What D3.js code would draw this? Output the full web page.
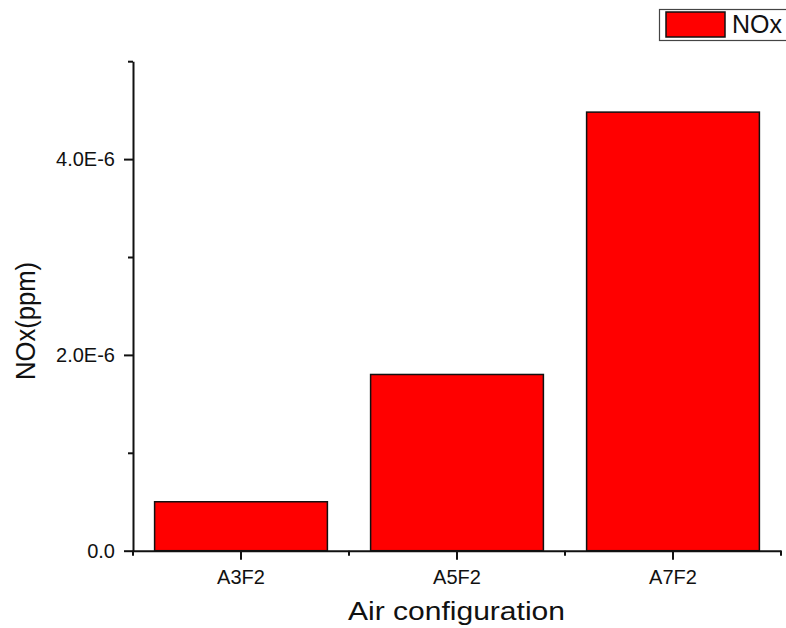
<!DOCTYPE html>
<html>
<head>
<meta charset="utf-8">
<script src="https://cdn.jsdelivr.net/npm/d3@7"></script>
<style>
  html, body { margin: 0; padding: 0; background: #fff; }
  svg { display: block; font-family: "Liberation Sans", Arial, sans-serif; }
</style>
</head>
<body>
<svg id="chart" width="786" height="628"></svg>
<script>
// NOx emission per air configuration
const categories = ["A3F2", "A5F2", "A7F2"];
const noxValues = [0.5e-6, 1.8e-6, 4.48e-6];
const seriesName = "NOx";
const yMajorTicks = [0, 2e-6, 4e-6];
const yMinorTicks = [1e-6, 3e-6, 5e-6];
const xTitle = "Air configuration";
const yTitle = "NOx(ppm)";

const svg = d3.select("#chart");
const plotLeft = 133, plotRight = 781, plotBottom = 550.7, plotTop = 61.2;

const x = d3.scaleBand()
  .domain(categories)
  .range([plotLeft, plotRight])
  .paddingInner(0.2)
  .paddingOuter(0.1);

const y = d3.scaleLinear()
  .domain([0, 5e-6])
  .range([plotBottom, plotTop]);

const fmt = d => d === 0 ? "0.0" : (d / 1e-6).toFixed(1) + "E-6";

// bars
svg.append("g").selectAll("rect")
  .data(categories.map((c, i) => ({ c, v: noxValues[i] })))
  .join("rect")
  .attr("x", d => x(d.c))
  .attr("y", d => y(d.v))
  .attr("width", x.bandwidth())
  .attr("height", d => y(0) - y(d.v))
  .attr("fill", "#ff0000")
  .attr("stroke", "#111")
  .attr("stroke-width", 1.5);

// y axis: major ticks with labels, minor ticks without
svg.append("g")
  .attr("transform", `translate(${plotLeft},0)`)
  .call(d3.axisLeft(y).tickValues(yMajorTicks).tickFormat(fmt)
    .tickSize(9).tickSizeOuter(0).tickPadding(9));
svg.append("g")
  .attr("transform", `translate(${plotLeft},0)`)
  .call(d3.axisLeft(y).tickValues(yMinorTicks).tickFormat("")
    .tickSize(5).tickSizeOuter(0))
  .select(".domain").remove();

// x axis: major ticks at category centres, minor ticks at boundaries
svg.append("g")
  .attr("transform", `translate(0,${plotBottom})`)
  .call(d3.axisBottom(x).tickSize(9).tickSizeOuter(0).tickPadding(10));
const boundaries = [plotLeft].concat(categories.map(c => x(c) + x.bandwidth() + x.step() * x.paddingInner() / 2));
svg.append("g")
  .attr("transform", `translate(0,${plotBottom})`)
  .selectAll("line")
  .data(boundaries)
  .join("line")
  .attr("x1", d => d).attr("x2", d => d)
  .attr("y1", 0).attr("y2", 5)
  .attr("stroke", "#111").attr("stroke-width", 2);

svg.selectAll(".domain").attr("stroke", "#111").attr("stroke-width", 2);
svg.selectAll(".tick line").attr("stroke", "#111").attr("stroke-width", 2);
svg.selectAll(".tick text")
  .attr("font-size", 20)
  .attr("font-family", "'Liberation Sans', Arial, sans-serif")
  .attr("fill", "#111");

// axis titles
svg.append("text")
  .attr("x", 456.5).attr("y", 620)
  .attr("text-anchor", "middle")
  .attr("font-size", 26)
  .attr("textLength", 217)
  .attr("lengthAdjust", "spacingAndGlyphs")
  .attr("fill", "#111")
  .text(xTitle);

svg.append("text")
  .attr("transform", "translate(35,321) rotate(-90)")
  .attr("text-anchor", "middle")
  .attr("font-size", 27)
  .attr("textLength", 118)
  .attr("lengthAdjust", "spacingAndGlyphs")
  .attr("fill", "#111")
  .text(yTitle);

// legend
const legend = svg.append("g");
legend.append("rect")
  .attr("x", 659.5).attr("y", 9.5)
  .attr("width", 140).attr("height", 31)
  .attr("fill", "#fff")
  .attr("stroke", "#444").attr("stroke-width", 1.2);
legend.append("rect")
  .attr("x", 666).attr("y", 12)
  .attr("width", 59).attr("height", 25)
  .attr("fill", "#ff0000")
  .attr("stroke", "#111").attr("stroke-width", 1.5);
legend.append("text")
  .attr("x", 732).attr("y", 33)
  .attr("font-size", 25)
  .attr("fill", "#111")
  .text(seriesName);
</script>
</body>
</html>
